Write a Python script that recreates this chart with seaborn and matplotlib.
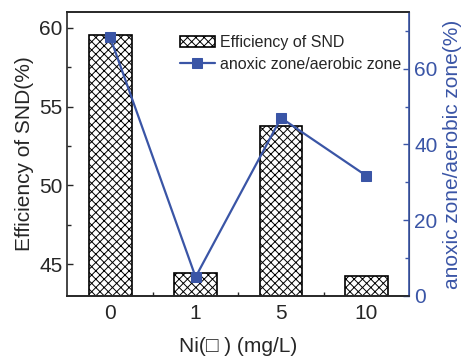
import numpy as np
import pandas as pd
import seaborn as sns
import matplotlib.pyplot as plt
from matplotlib.ticker import MultipleLocator

ni_dose = ['0', '1', '5', '10']
snd_eff = [59.55, 44.43, 53.77, 44.25]
zone_ratio = [68.3, 5.0, 47.0, 31.7]

blue = '#3a55a6'

sns.set_style("ticks")
plt.rcParams['font.family'] = ['Liberation Sans', 'DejaVu Sans']
plt.rcParams['hatch.linewidth'] = 0.7

fig, ax = plt.subplots(figsize=(4.65, 3.6), dpi=100)
fig.subplots_adjust(left=0.145, right=0.88, top=0.967, bottom=0.178)

df = pd.DataFrame({'ni': ni_dose, 'eff': snd_eff, 'ratio': zone_ratio})

# bars: SND efficiency on the left axis
sns.barplot(data=df, x='ni', y='eff', ax=ax, color='white', edgecolor='black',
            hatch='xxxx', width=0.5, linewidth=1.2, label='Efficiency of SND')
ax.set_ylim(43, 61)
ax.set_xlim(-0.5, 3.5)
ax.yaxis.set_major_locator(MultipleLocator(5))
ax.yaxis.set_minor_locator(MultipleLocator(2.5))
ax.set_xticks(np.arange(len(ni_dose)))
ax.set_xticks(np.arange(len(ni_dose) - 1) + 0.5, minor=True)
ax.tick_params(which='both', direction='in', labelsize=15, width=1)
ax.tick_params(which='major', length=4)
ax.tick_params(which='minor', length=3)
ax.tick_params(axis='x', pad=6)
ax.set_ylabel('Efficiency of SND(%)', fontsize=15)
ax.set_xlabel('Ni(\u25a1 ) (mg/L)', fontsize=15, labelpad=10)

# line: anoxic/aerobic zone ratio on the right axis
ax2 = ax.twinx()
sns.lineplot(x=np.arange(len(ni_dose)), y=zone_ratio, ax=ax2, color=blue,
             marker='s', markersize=7, markeredgecolor=blue, linewidth=1.6,
             label='anoxic zone/aerobic zone')
ax2.set_ylim(0, 75)
ax2.yaxis.set_major_locator(MultipleLocator(20))
ax2.yaxis.set_minor_locator(MultipleLocator(10))
ax2.tick_params(which='both', direction='in', labelsize=15, colors=blue, width=1)
ax2.tick_params(which='major', length=4)
ax2.tick_params(which='minor', length=3)
ax2.set_ylabel('anoxic zone/aerobic zone(%)', fontsize=15, color=blue)
ax2.spines['right'].set_color(blue)
ax2.spines['left'].set_visible(False)

for a in (ax, ax2):
    for s in ['top', 'left', 'bottom']:
        a.spines[s].set_linewidth(1.2)
ax2.spines['right'].set_linewidth(1.2)

h1, l1 = ax.get_legend_handles_labels()
h2, l2 = ax2.get_legend_handles_labels()
if ax.get_legend():
    ax.get_legend().remove()
ax2.legend(h1[:1] + h2, l1[:1] + l2, loc='upper left', bbox_to_anchor=(0.31, 0.94),
           frameon=False, fontsize=11.5, handlelength=2.2, handletextpad=0.3,
           labelspacing=0.4, borderaxespad=0)

fig.savefig('out.png', dpi=100)
